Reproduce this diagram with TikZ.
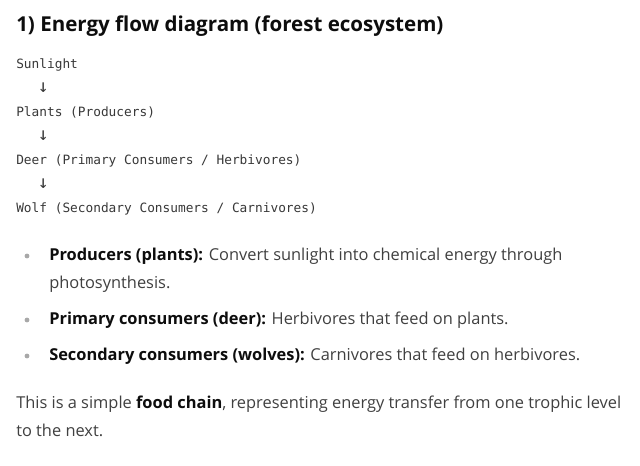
\documentclass[tikz,border=0pt]{standalone}
\usepackage{fontspec}
\setmainfont{Open Sans}
\setmonofont{DejaVu Sans Mono}
\definecolor{inkblack}{HTML}{0D0D0D}
\definecolor{bodygray}{HTML}{404040}
\definecolor{codegray}{HTML}{383838}
\definecolor{dotgray}{HTML}{A8A8A8}
\begin{document}
\begin{tikzpicture}[x=0.75pt, y=-0.75pt,
    heading/.style={anchor=base west, inner sep=0pt, text=inkblack, font=\bfseries\fontsize{15.4}{18}\selectfont},
    code/.style={anchor=base west, inner sep=0pt, text=codegray, font=\ttfamily\fontsize{9.6}{11}\selectfont},
    downarrow/.style={code, font=\ttfamily\fontsize{13.5}{15}\selectfont},
    body/.style={anchor=base west, inner sep=0pt, text=bodygray, font=\fontsize{12.3}{15}\selectfont},
    bullet/.style={circle, fill=dotgray, inner sep=0pt, minimum size=3.6pt}]

    \fill[white] (0,0) rectangle (640,465);
    \useasboundingbox (0,0) rectangle (640,465);

    \node[heading] at (16,31) (title) {1) Energy flow diagram (forest ecosystem)};

    % energy flow, one level per line
    \node[code] at (16,68) (sunlight) {Sunlight};
    \node[downarrow] at (37.5,92) (arrow1) {↓};
    \node[code] at (16,116) (plants) {Plants (Producers)};
    \node[downarrow] at (37.5,140) (arrow2) {↓};
    \node[code] at (16,164) (deer) {Deer (Primary Consumers / Herbivores)};
    \node[downarrow] at (37.5,188) (arrow3) {↓};
    \node[code] at (16,212) (wolf) {Wolf (Secondary Consumers / Carnivores)};

    % list of trophic levels
    \node[bullet] at (27,256) (dot1) {};
    \node[body] at (49,260) (producers) {\textcolor{inkblack}{\textbf{Producers (plants):}} Convert sunlight into chemical energy through};
    \node[body] at (49,288) (producers2) {photosynthesis.};
    \node[bullet] at (27,320) (dot2) {};
    \node[body] at (49,324) (primary) {\textcolor{inkblack}{\textbf{Primary consumers (deer):}} Herbivores that feed on plants.};
    \node[bullet] at (27,356) (dot3) {};
    \node[body] at (49,360) (secondary) {\textcolor{inkblack}{\textbf{Secondary consumers (wolves):}} Carnivores that feed on herbivores.};

    \node[body] at (16,408) (summary) {This is a simple \textcolor{inkblack}{\textbf{food chain}}, representing energy transfer from one trophic level};
    \node[body] at (16,436) (summary2) {to the next.};

\end{tikzpicture}
\end{document}
